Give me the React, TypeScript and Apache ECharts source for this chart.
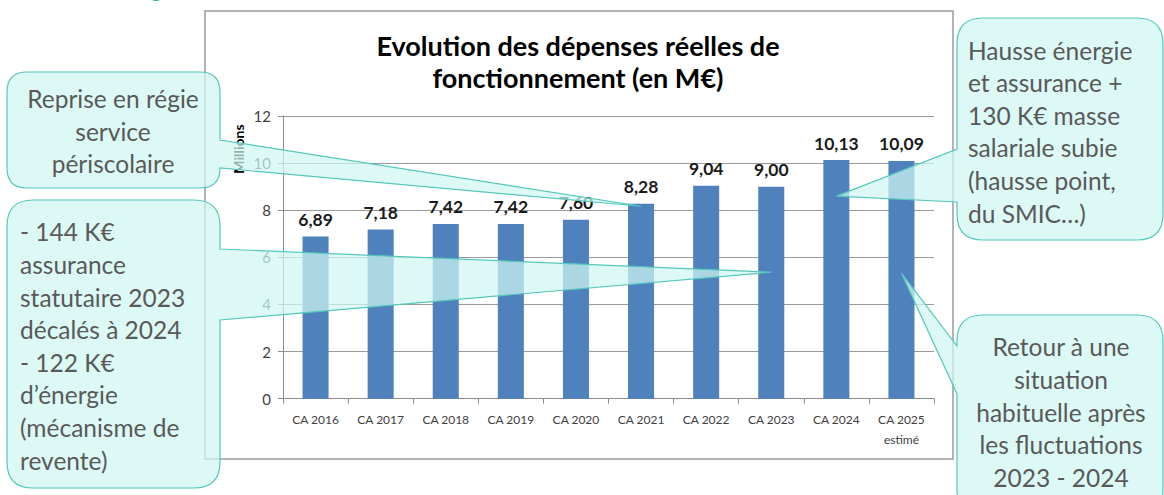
import React, { useEffect, useRef } from "react";
import * as echarts from "echarts";

const categories = [
  "CA 2016",
  "CA 2017",
  "CA 2018",
  "CA 2019",
  "CA 2020",
  "CA 2021",
  "CA 2022",
  "CA 2023",
  "CA 2024",
  "CA 2025\nestimé",
];
const values = [6.89, 7.18, 7.42, 7.42, 7.6, 8.28, 9.04, 9.0, 10.13, 10.09];
const yMin = 0;
const yMax = 12;
const yInterval = 2;
const titleLines = ["Evolution des dépenses réelles de", "fonctionnement (en M€)"];
const yAxisName = "Millions";

const calloutTexts = [
  "Reprise en régie\nservice\npériscolaire",
  "- 144 K€\nassurance\nstatutaire 2023\ndécalés à 2024\n- 122 K€\nd’énergie\n(mécanisme de\nrevente)",
  "Hausse énergie\net assurance +\n130 K€ masse\nsalariale subie\n(hausse point,\ndu SMIC…)",
  "Retour à une\nsituation\nhabituelle après\nles fluctuations\n2023 - 2024",
];
// category index and value the callout pointers reach
const calloutTargetCats = [5, 7, 8, 9];
const calloutTargetVals = [8.17, 5.37, 8.6, 5.33];

const FONT = "Lato, 'Open Sans', sans-serif";

type Layout = {
  x: number;
  y: number;
  w: number;
  h: number;
  r: number;
  side: "left" | "right";
  a1: number;
  a2: number;
  align: "left" | "center";
  tx: number;
  ty: number;
};

const layouts: Layout[] = [
  { x: 7, y: 72, w: 213, h: 116, r: 20, side: "right", a1: 140, a2: 168, align: "center", tx: 113, ty: 131 },
  { x: 7, y: 200, w: 213, h: 288, r: 26, side: "right", a1: 249, a2: 320, align: "left", tx: 20, ty: 346 },
  { x: 957, y: 18, w: 206, h: 222, r: 26, side: "left", a1: 149, a2: 202, align: "left", tx: 968, ty: 131.5 },
  { x: 957, y: 315, w: 206, h: 200, r: 26, side: "left", a1: 346, a2: 394, align: "center", tx: 1061, ty: 412 },
];

function calloutPath(l: Layout, tip: number[]): string {
  const { x, y, w, h, r } = l;
  const p: string[] = [];
  p.push(`M ${x + r} ${y}`);
  p.push(`L ${x + w - r} ${y}`);
  p.push(`Q ${x + w} ${y} ${x + w} ${y + r}`);
  if (l.side === "right") {
    p.push(`L ${x + w} ${l.a1}`);
    p.push(`L ${tip[0]} ${tip[1]}`);
    p.push(`L ${x + w} ${l.a2}`);
  }
  p.push(`L ${x + w} ${y + h - r}`);
  p.push(`Q ${x + w} ${y + h} ${x + w - r} ${y + h}`);
  p.push(`L ${x + r} ${y + h}`);
  p.push(`Q ${x} ${y + h} ${x} ${y + h - r}`);
  if (l.side === "left") {
    p.push(`L ${x} ${l.a2}`);
    p.push(`L ${tip[0]} ${tip[1]}`);
    p.push(`L ${x} ${l.a1}`);
  }
  p.push(`L ${x} ${y + r}`);
  p.push(`Q ${x} ${y} ${x + r} ${y}`);
  p.push("Z");
  return p.join(" ");
}

export default function App() {
  const ref = useRef<HTMLDivElement>(null);

  useEffect(() => {
    if (!ref.current) return;
    const chart = echarts.init(ref.current, null, { renderer: "svg" });
    chart.setOption({
      animation: false,
      backgroundColor: "#ffffff",
      grid: { left: 283, right: 230, top: 116, bottom: 96.3, containLabel: false },
      xAxis: {
        type: "category",
        data: categories,
        axisLine: { show: true, lineStyle: { color: "#8c8c8c", width: 1 } },
        axisTick: { show: true, length: 5, lineStyle: { color: "#8c8c8c" } },
        axisLabel: {
          color: "#404040",
          fontFamily: FONT,
          fontSize: 12,
          lineHeight: 20,
          margin: 11,
          interval: 0,
        },
        splitLine: { show: false },
      },
      yAxis: {
        type: "value",
        min: yMin,
        max: yMax,
        interval: yInterval,
        axisLine: { show: true, lineStyle: { color: "#8c8c8c", width: 1 } },
        axisTick: { show: true, length: 5, lineStyle: { color: "#8c8c8c" } },
        axisLabel: { color: "#404040", fontFamily: FONT, fontSize: 15, margin: 12 },
        splitLine: { show: true, lineStyle: { color: "#9a9a9a", width: 1 } },
      },
      series: [
        {
          type: "bar",
          data: values,
          barWidth: "40%",
          itemStyle: { color: "#4f81bd" },
          label: {
            show: true,
            position: "top",
            distance: 8,
            fontFamily: FONT,
            fontWeight: "bold",
            fontSize: 17.5,
            color: "#1a1a1a",
            formatter: (p: any) => Number(p.value).toFixed(2).replace(".", ","),
          },
        },
      ],
    });

    const graphics: any[] = [];
    graphics.push({
      type: "rect",
      z: 0,
      silent: true,
      shape: { x: 205, y: 11, width: 748, height: 448 },
      style: { fill: "none", stroke: "#9a9a9a", lineWidth: 1.5 },
    });
    graphics.push({
      type: "ellipse",
      z: 0,
      shape: { cx: 156, cy: -7.5, rx: 8.5, ry: 8.5 },
      style: { fill: "#22b894" },
    });
    graphics.push({
      type: "text",
      z: 5,
      x: 578,
      y: 61,
      style: {
        text: titleLines.join("\n"),
        font: `bold 27px ${FONT}`,
        fill: "#000000",
        align: "center",
        verticalAlign: "middle",
        lineHeight: 32,
      },
    });
    graphics.push({
      type: "text",
      z: 5,
      x: 238,
      y: 149,
      rotation: Math.PI / 2,
      style: {
        text: yAxisName,
        font: `bold 14px ${FONT}`,
        fill: "#000000",
        align: "center",
        verticalAlign: "middle",
      },
    });

    layouts.forEach((l, i) => {
      const tip = chart.convertToPixel({ gridIndex: 0 }, [
        calloutTargetCats[i],
        calloutTargetVals[i],
      ]) as number[];
      const name = `callout${i}`;
      echarts.graphic.registerShape(
        name,
        (echarts.graphic as any).extendPath(calloutPath(l, tip), {})
      );
      graphics.push({
        type: name,
        z: 100,
        x: 0,
        y: 0,
        style: {
          fill: "rgba(206,247,242,0.72)",
          stroke: "#55c8bb",
          lineWidth: 1.2,
        },
      });
      graphics.push({
        type: "text",
        z: 101,
        x: l.tx,
        y: l.ty,
        style: {
          text: calloutTexts[i],
          font: `24.5px ${FONT}`,
          fill: "#595959",
          align: l.align,
          verticalAlign: "middle",
          lineHeight: 32.6,
        },
      });
    });

    chart.setOption({ graphic: graphics });

    return () => chart.dispose();
  }, []);

  return (
    <div
      ref={ref}
      style={{ position: "fixed", left: 0, top: 0, width: 1164, height: 495 }}
    />
  );
}
